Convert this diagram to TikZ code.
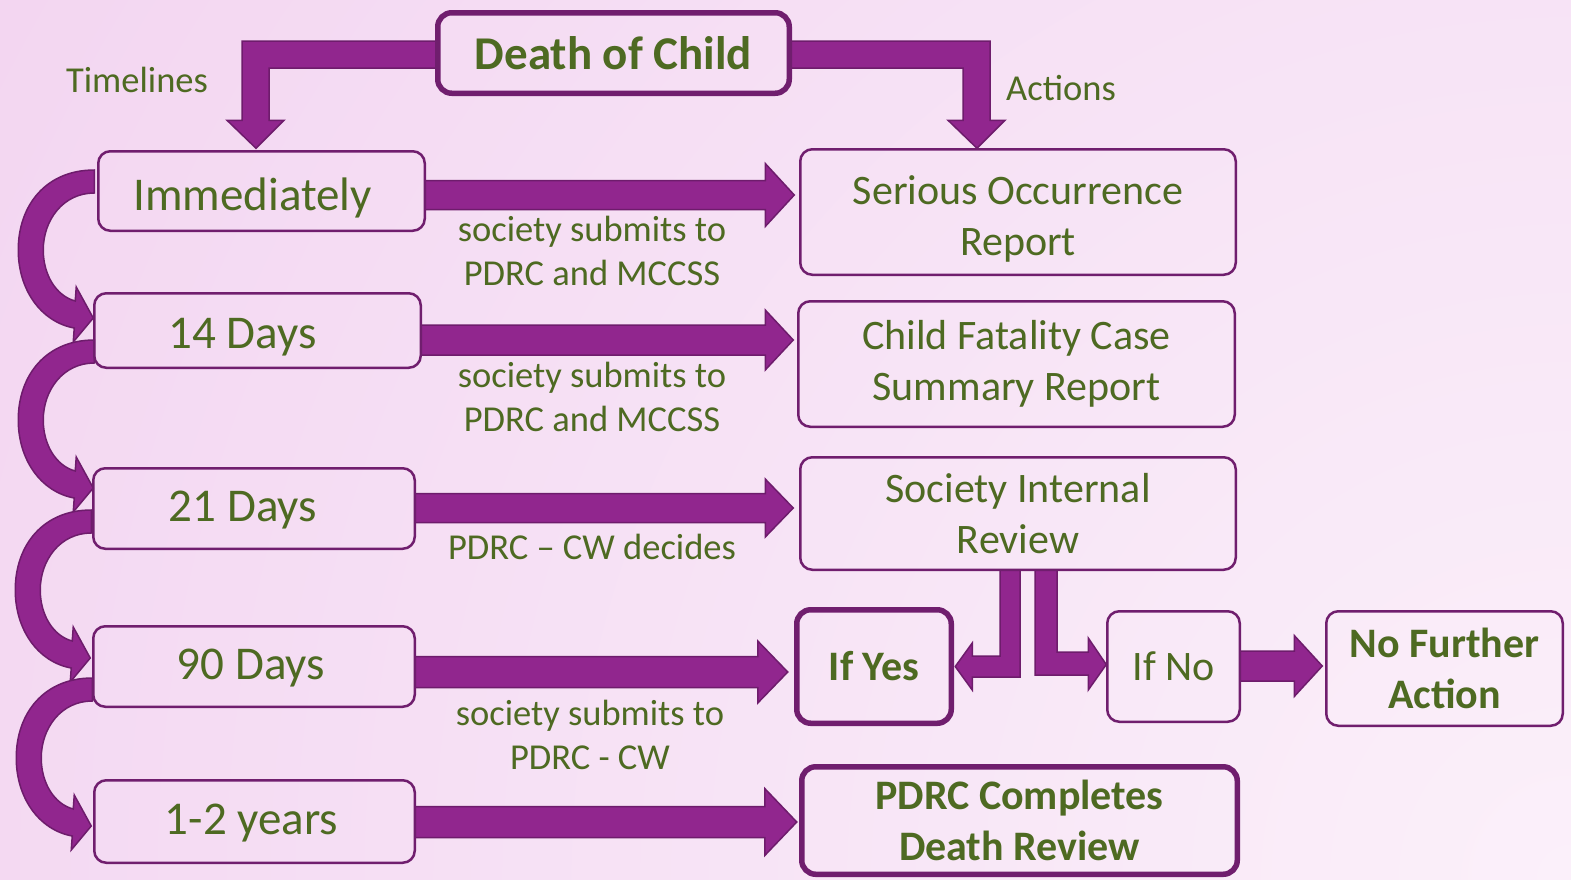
\documentclass[tikz,border=0pt]{standalone}
\usepackage{fontspec}
\setmainfont{Carlito}
\usetikzlibrary{calc}

\definecolor{bgdark}{RGB}{242,211,240}
\definecolor{bglight}{RGB}{251,240,250}
\definecolor{arrowfill}{RGB}{145,38,142}
\definecolor{arrowedge}{RGB}{110,28,108}
\definecolor{boxedge}{RGB}{112,30,110}
\definecolor{txtgreen}{RGB}{78,106,34}

\pgfdeclarelayer{bg}
\pgfsetlayers{bg,main}

\tikzset{
  plainbox/.style={draw=boxedge, line width=2.5pt, rounded corners=12pt,
    inner sep=0pt, outer sep=0pt, text=txtgreen, align=center,
    font=\fontsize{42}{51}\selectfont},
  heavybox/.style={plainbox, line width=5.5pt, rounded corners=14pt},
  timebox/.style={plainbox, font=\fontsize{47}{56}\selectfont},
  notetext/.style={text=txtgreen, align=center, inner sep=0pt,
    font=\fontsize{36.5}{44}\selectfont},
  blockarrow/.style={fill=arrowfill, draw=arrowedge, line width=1.5pt,
    line join=miter},
}

% text set a little lower (#1) and further left (#2) inside its box,
% keeping the box's own height and depth
\newcommand{\offtext}[3]{\raisebox{-#1pt}[\height][\depth]{#3}\hspace*{#2pt}}

% straight block arrow: source, target, tip offset from target.west (x,y),
% shaft half width, head half width, head length
\newcommand{\rblock}[7]{%
  \coordinate (arrtip) at ($(#2.west)+(#3,#4)$);
  \draw[blockarrow] ($(#1.east |- arrtip)+(0,-#5)$) -- ($(arrtip)+(-#7,-#5)$)
    -- ($(arrtip)+(-#7,-#6)$) -- (arrtip) -- ($(arrtip)+(-#7,#6)$)
    -- ($(arrtip)+(-#7,#5)$) -- ($(#1.east |- arrtip)+(0,#5)$) -- cycle;
}

% curved block arrow leaving a timeline box on the left and bending down
\newcommand{\loopblock}[3]{%
  \begin{scope}[shift={($(#1.west)+(#2,#3)$)}]
    \draw[blockarrow] (0,0) .. controls (-48,0) and (-76,35) .. (-76,80)
      .. controls (-76,120) and (-53,152) .. (-20,158)
      -- (-21,172) -- (-1,148) -- (-18,117) -- (-19,131)
      .. controls (-38,126) and (-51,105) .. (-51,80)
      .. controls (-51,50) and (-31,23) .. (0,23) -- cycle;
  \end{scope}
}

\begin{document}
\begin{tikzpicture}[x=1pt, y=-1pt]
\useasboundingbox (0,0) rectangle (1571,879);

% boxes
\node[heavybox, font=\bfseries\fontsize{47}{56}\selectfont,
  minimum width=351.5pt, minimum height=80.5pt] (death) at (613.5,53) {Death of Child};

\node[timebox, minimum width=326.5pt, minimum height=79.5pt] (imm) at (261.5,191) {\offtext{7}{18}{Immediately}};
\node[timebox, minimum width=326.5pt, minimum height=74.5pt] (d14) at (257.5,330.5) {\offtext{7}{30}{14 Days}};
\node[timebox, minimum width=321.5pt, minimum height=80.5pt] (d21) at (254,508.5) {\offtext{2}{22}{21 Days}};
\node[timebox, minimum width=321.5pt, minimum height=80.5pt] (d90) at (254,666.5) {\offtext{1.5}{6}{90 Days}};
\node[timebox, minimum width=320.5pt, minimum height=82.5pt] (yrs) at (254.5,821.5) {\offtext{1.5}{6}{1-2 years}};

\node[plainbox, minimum width=435.5pt, minimum height=125.5pt] (sor) at (1018,212)
  {\offtext{8}{0}{\begin{tabular}{@{}c@{}}Serious Occurrence\\Report\end{tabular}}};
\node[plainbox, minimum width=436.5pt, minimum height=125.5pt] (cfc) at (1016.5,364) {Child Fatality Case\\Summary Report};
\node[plainbox, minimum width=435.5pt, minimum height=112.5pt] (sir) at (1018,513.5) {Society Internal\\Review};
\node[heavybox, font=\bfseries\fontsize{42}{51}\selectfont,
  minimum width=154.5pt, minimum height=113.5pt] (yes) at (874,666.5) {If Yes};
\node[plainbox, minimum width=132.5pt, minimum height=110.5pt] (no) at (1173.5,666.5) {If No};
\node[plainbox, font=\bfseries\fontsize{42}{51}\selectfont,
  minimum width=236.5pt, minimum height=114.5pt] (nfa) at (1444.5,668.5) {No Further\\Action};
\node[heavybox, font=\bfseries\fontsize{42}{51}\selectfont,
  minimum width=435.5pt, minimum height=107.5pt] (pdrc) at (1019.5,820.5) {PDRC Completes\\Death Review};

% free labels
\node[notetext] (tl) at (137,80) {Timelines};
\node[notetext] (ac) at (1061,88) {Actions};
\node[notetext] (n1) at (592,251) {society submits to\\PDRC and MCCSS};
\node[notetext] (n2) at (592,397) {society submits to\\PDRC and MCCSS};
\node[notetext] (n3) at (592,547) {PDRC – CW decides};
\node[notetext] (n4) at (590,734.5) {society submits to\\PDRC - CW};

\begin{pgfonlayer}{bg}
  % background
  \fill[bgdark] (0,0) rectangle (1571,879);
  \begin{scope}
    \clip (0,0) rectangle (1571,879);
    \shade[inner color=bglight, outer color=bgdark] (1571,879) circle (2000);
  \end{scope}

  % elbow arrows out of Death of Child
  \coordinate (t1) at ($(imm.north)+(-5.5,-3)$);
  \draw[blockarrow] ($(death.west)+(0,-12)$) -- ($(t1 |- death.west)+(-14,-12)$)
    -- ($(t1)+(-14,-28)$) -- ($(t1)+(-29,-28)$) -- (t1) -- ($(t1)+(28,-28)$)
    -- ($(t1)+(13,-28)$) -- ($(t1 |- death.west)+(13,15)$) -- ($(death.west)+(0,15)$) -- cycle;

  \coordinate (t2) at ($(sor.north)+(-41,-1)$);
  \draw[blockarrow] ($(death.east)+(0,-12)$) -- ($(t2 |- death.east)+(13,-12)$)
    -- ($(t2)+(13,-28)$) -- ($(t2)+(28,-28)$) -- (t2) -- ($(t2)+(-29,-28)$)
    -- ($(t2)+(-14,-28)$) -- ($(t2 |- death.east)+(-14,15)$) -- ($(death.east)+(0,15)$) -- cycle;

  % timeline to action arrows
  \rblock{imm}{sor}{-6}{-17}{14.5}{31.5}{29}
  \rblock{d14}{cfc}{-5}{-24}{15}{30}{28}
  \rblock{d21}{sir}{-7}{-5.5}{14.5}{29}{28}
  \rblock{d90}{yes}{-9}{5.5}{15.5}{31}{30}
  \rblock{yrs}{pdrc}{-5}{1.5}{15.5}{33.5}{32}
  \rblock{no}{nfa}{-4}{-2.5}{15}{30.5}{28}

  % split below the internal review
  \coordinate (t3) at ($(yes.east)+(4,0)$);
  \draw[blockarrow] ($(sir.south)+(-18,0)$) -- ($(sir.south)+(2,0)$)
    -- ($(t3 -| sir.south)+(2,10.5)$) -- ($(t3)+(17,10.5)$) -- ($(t3)+(17,23.5)$)
    -- (t3) -- ($(t3)+(17,-23.5)$) -- ($(t3)+(17,-10.5)$)
    -- ($(t3 -| sir.south)+(-18,-10.5)$) -- cycle;

  \coordinate (t4) at ($(no.west)+(-1,-2)$);
  \draw[blockarrow] ($(sir.south)+(17,0)$) -- ($(sir.south)+(39,0)$)
    -- ($(t4 -| sir.south)+(39,-12.5)$) -- ($(t4)+(-18,-12.5)$) -- ($(t4)+(-18,-26.5)$)
    -- (t4) -- ($(t4)+(-18,25.5)$) -- ($(t4)+(-18,10.5)$)
    -- ($(t4 -| sir.south)+(17,10.5)$) -- cycle;

  % curved arrows down the timeline
  \loopblock{imm}{-4}{-21}
  \loopblock{d14}{0}{9.5}
  \loopblock{d21}{-2}{1.5}
  \loopblock{d90}{-1}{11.5}
\end{pgfonlayer}
\end{tikzpicture}
\end{document}
